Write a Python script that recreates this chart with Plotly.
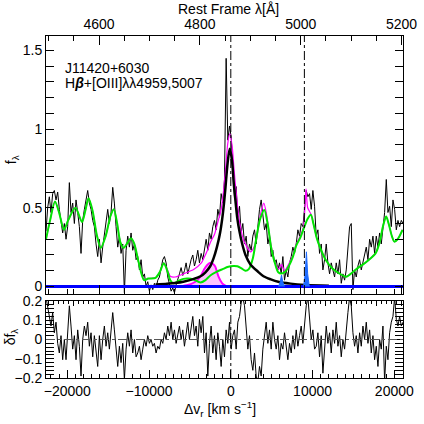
import numpy as np
import plotly.graph_objects as go

C_KMS = 299792.458
LAM0 = 4861.3           # Hbeta rest wavelength
VEL_RANGE = [-22600, 21060]
REF_LINES = [0, 9000]   # Hbeta, [OIII]5007

# observed spectrum, sampled every 204 km/s from -22600
OBS_START, OBS_STEP = -22600, 204
OBS_F = [
    0.35, 0.50, 0.57, 0.47, 0.59, 0.61, 0.55, 0.60, 0.49, 0.42,
    0.34, 0.40, 0.30, 0.38, 0.66, 0.47, 0.53, 0.40, 0.55, 0.47,
    0.38, 0.21, 0.42, 0.49, 0.55, 0.61, 0.53, 0.49, 0.42, 0.38,
    0.27, 0.19, 0.30, 0.15, 0.25, 0.34, 0.44, 0.49, 0.40, 0.47,
    0.63, 0.53, 0.38, 0.25, 0.32, 0.21, 0.27, -0.04, 0.23, 0.32,
    0.25, 0.34, 0.23, 0.27, 0.17,
    0.19, 0.105, 0.17, 0.06, 0.08, 0.0, 0.03, -0.03, 0.01, -0.02,
    0.02, -0.01, 0.04, 0.06, 0.13, 0.17, 0.19, 0.15, 0.06, 0.02,
    -0.03, -0.01, -0.04, 0.01, 0.04, 0.08, 0.12, 0.07, 0.10, 0.15,
    0.08, 0.13, 0.17, 0.20, 0.13, 0.17, 0.23, 0.15, 0.21, 0.17,
    0.25, 0.30, 0.23, 0.34, 0.30, 0.38, 0.42, 0.36, 0.49, 0.44,
    0.59, 0.53, 0.68,
    1.45, 0.93, 1.02, 0.95, 0.74, 0.57, 0.635, 0.44, 0.51, 0.34,
    0.40, 0.27, 0.32, 0.19, 0.27, 0.23, 0.32, 0.36, 0.27, 0.40,
    0.49, 0.55, 0.44, 0.36, 0.40, 0.27, 0.32, 0.19, 0.23, 0.15,
    0.17, 0.105, 0.15, 0.08, 0.19, 0.04, 0.105, 0.06, 0.15, 0.19,
    0.25, 0.21, 0.27, 0.36, 0.32, 0.40, 0.38, 0.49, 0.61, 0.57,
    0.59, 0.49, 0.61, 0.51,
    0.32, 0.36, 0.21, 0.27, 0.105, 0.17, 0.27, 0.15, 0.08, 0.15,
    0.105, 0.06, 0.15, 0.08, 0.17, 0.02, 0.08, 0.04, 0.105, 0.27,
    0.38, 0.40, -0.02, 0.105, 0.06, 0.13, 0.17, 0.105, 0.15, 0.21,
    0.25, 0.17, 0.30, 0.25, 0.32, 0.21, 0.32, 0.25, 0.34, 0.27,
    0.38, 0.47, 0.68, 0.47, 0.51, 0.38, 0.55, 0.49, 0.36, 0.42,
    0.38, 0.42, 0.40,
]
RESID = [
    0.22, 0.175, 0.12, 0.07, 0.14, 0.035, 0.09, -0.02, -0.07, 0.02,
    -0.105, 0.0, -0.105, 0.035, 0.175, 0.07, -0.05, 0.02, -0.105, 0.05,
    -0.035, -0.19, 0.0, 0.07, 0.02, 0.09, -0.035, 0.035, -0.09, 0.02,
    -0.07, -0.14, 0.02, -0.105, 0.0, 0.07, -0.035, 0.035, -0.05, 0.035,
    0.14, 0.05, -0.07, -0.14, -0.035, -0.12, -0.02, -0.21, -0.05, 0.035,
    -0.035, 0.05, -0.07, 0.0, -0.09,
    -0.07, -0.035, -0.105, -0.05, 0.0, -0.035, 0.02, -0.02, 0.0, -0.035,
    -0.02, -0.07, -0.035, -0.05, 0.0, -0.02, 0.035, 0.0, 0.07, 0.02,
    0.09, 0.0, 0.05, -0.02, 0.035, 0.07, 0.0, 0.05, -0.035, 0.035,
    0.09, 0.0, 0.07, 0.12, 0.02, 0.07, -0.035, 0.105, 0.035, 0.12,
    -0.07, 0.035, -0.19, -0.02, 0.07, -0.07, 0.02, -0.105, 0.035, -0.035,
    -0.14, 0.0, -0.09,
    0.05, -0.02, 0.09, -0.05, 0.02, 0.05, -0.05, 0.09, 0.12, 0.19,
    0.22, 0.175, 0.05, -0.05, 0.02, -0.105, -0.16, -0.07, -0.19, -0.22,
    -0.14, -0.19, -0.05, 0.02, 0.09, -0.02, 0.05, -0.05, 0.09, 0.0,
    -0.05, 0.02, -0.105, -0.02, -0.05, 0.035, -0.05, -0.105, -0.02, -0.07,
    0.02, -0.05, 0.05, -0.035, 0.02, 0.07, -0.02, 0.09, 0.175, 0.22,
    0.09, 0.0, 0.05, -0.05,
    -0.035, 0.035, -0.09, 0.02, -0.175, -0.035, 0.07, -0.02, 0.035, -0.07,
    0.05, -0.02, 0.09, -0.035, 0.02, -0.09, 0.0, -0.05, 0.07, 0.14,
    0.22, 0.175, 0.035, -0.035, 0.02, -0.07, 0.035, -0.035, 0.07, 0.0,
    0.09, -0.02, 0.05, -0.07, 0.02, -0.105, -0.035, -0.14, 0.0, -0.05,
    0.07, -0.22, -0.035, -0.105, 0.035, 0.09, 0.12, 0.22, 0.105, 0.07,
    0.12, 0.07, 0.09,
]

# FeII template (green)
GREEN_V = [-22600, -22100, -21500, -21000, -20400, -19900, -19000, -18200, -17800, -17400,
           -16900, -16400, -15900, -15300, -14700, -14300, -13900, -13500, -13100, -12600,
           -12200, -11800, -11300, -10600, -10100, -9200, -8700, -8200, -7700, -7400,
           -7000, -6400, -5800, -5200, -4600, -3700, -3100, -2500, -1700, -1000,
           -300, 300, 800, 1300, 1800, 2200, 2700, 3100, 3600, 4100,
           4500, 5000, 5500, 5800, 6200, 6600, 7100, 7600, 8000, 8500,
           9000, 9400, 9800, 10100, 10500, 10900, 11600, 12400, 13200, 14100,
           14900, 15600, 16100, 16900, 17700, 18200, 18600, 19000, 19300, 19700,
           20000, 20400, 21000]
GREEN_F = [0.30, 0.42, 0.54, 0.47, 0.36, 0.42, 0.50, 0.41, 0.48, 0.56,
           0.48, 0.33, 0.245, 0.32, 0.45, 0.49, 0.40, 0.28, 0.245, 0.28,
           0.306, 0.27, 0.16, 0.04, 0.05, 0.055, 0.09, 0.147, 0.09, 0.04,
           0.02, 0.035, 0.048, 0.05, 0.045, 0.025, 0.04, 0.07, 0.094, 0.11,
           0.125, 0.13, 0.128, 0.115, 0.10, 0.11, 0.18, 0.30, 0.43, 0.486,
           0.40, 0.23, 0.13, 0.09, 0.082, 0.09, 0.13, 0.19, 0.26, 0.31,
           0.38, 0.43, 0.455, 0.40, 0.31, 0.25, 0.17, 0.116, 0.085, 0.062,
           0.09, 0.12, 0.137, 0.17, 0.21, 0.28, 0.38, 0.444, 0.40, 0.32,
           0.285, 0.30, 0.36]

# total model (magenta): same as template away from Hbeta
MAG_MID_V = [-8200, -7700, -7400, -6800, -5800, -4500, -3600, -3300, -2850, -2500,
             -2000, -1630, -1175, -900, -650, -370, -120, 170, 390, 575,
             980, 1590, 2410, 2840, 3230, 3640, 4040, 4370, 4860, 5350,
             5880, 6200, 6570, 7060, 7600, 8000, 8500, 8900, 9200, 9400, 9800]
MAG_MID_F = [0.15, 0.10, 0.065, 0.06, 0.08, 0.11, 0.15, 0.18, 0.23, 0.28,
             0.33, 0.40, 0.49, 0.60, 0.74, 0.91, 0.97, 0.89, 0.75, 0.64,
             0.44, 0.29, 0.22, 0.25, 0.33, 0.46, 0.53, 0.46, 0.28, 0.16,
             0.11, 0.14, 0.10, 0.14, 0.20, 0.27, 0.32, 0.38, 0.62, 0.50, 0.46]
MAG_V = GREEN_V[:27] + MAG_MID_V + GREEN_V[63:]
MAG_F = GREEN_F[:27] + MAG_MID_F + GREEN_F[63:]

# broad Hbeta (black)
BROAD_V = [-9200, -7800, -6800, -5800, -4700, -3700, -3100, -2500, -2100, -1700,
           -1350, -1050, -830, -650, -400, -130, 150, 370, 580, 780,
           1060, 1400, 1800, 2400, 3300, 4000, 4900, 5800, 7300, 9100, 12000]
BROAD_F = [0.012, 0.017, 0.022, 0.03, 0.045, 0.065, 0.09, 0.13, 0.18, 0.25,
           0.33, 0.43, 0.53, 0.63, 0.78, 0.875, 0.80, 0.65, 0.54, 0.44,
           0.35, 0.27, 0.20, 0.14, 0.095, 0.065, 0.045, 0.03, 0.018, 0.01, 0.005]

# blueshifted Gaussian (magenta, filled)
GAUSS_V = [-5800, -4900, -4100, -3700, -3300, -2900, -2500, -2100, -1900, -1500, -1050, -650]
GAUSS_F = [0.005, 0.015, 0.04, 0.065, 0.105, 0.135, 0.15, 0.14, 0.126, 0.063, 0.02, 0.005]

# narrow [OIII] lines (blue)
O4959_V = [5850, 6050, 6200, 6350, 6550]
O4959_F = [0, 0.03, 0.073, 0.03, 0]
O5007_V = [8900, 9100, 9250, 9400, 9600]
O5007_F = [0, 0.08, 0.22, 0.08, 0]

obs_v = OBS_START + OBS_STEP * np.arange(len(OBS_F))
lam_range = [LAM0 * (1 + v / C_KMS) for v in VEL_RANGE]

FONT = "Liberation Sans"
TOP_DOM = [0.2456, 1.0]
BOT_DOM = [0.0, 0.2251]

fig = go.Figure()
fig.add_trace(go.Scatter(x=obs_v, y=OBS_F, mode="lines",
                         line=dict(color="black", width=1), xaxis="x2", yaxis="y2"))
fig.add_trace(go.Scatter(x=MAG_V, y=MAG_F, mode="lines",
                         line=dict(color="#ff00ff", width=1.2, shape="spline", smoothing=0.6),
                         xaxis="x2", yaxis="y2"))
fig.add_trace(go.Scatter(x=GAUSS_V, y=GAUSS_F, mode="lines", fill="tozeroy",
                         fillcolor="rgba(255,120,255,0.45)",
                         line=dict(color="#ff00ff", width=2, shape="spline"),
                         xaxis="x2", yaxis="y2"))
fig.add_trace(go.Scatter(x=GREEN_V, y=GREEN_F, mode="lines",
                         line=dict(color="#00e600", width=2, shape="spline", smoothing=0.8),
                         xaxis="x2", yaxis="y2"))
fig.add_trace(go.Scatter(x=BROAD_V, y=BROAD_F, mode="lines",
                         line=dict(color="black", width=2.5, shape="spline", smoothing=0.8),
                         xaxis="x2", yaxis="y2"))
fig.add_trace(go.Scatter(x=VEL_RANGE, y=[0, 0], mode="lines",
                         line=dict(color="#0000ff", width=3), xaxis="x2", yaxis="y2"))
for xs, ys in [(O4959_V, O4959_F), (O5007_V, O5007_F)]:
    fig.add_trace(go.Scatter(x=xs, y=ys, mode="lines", fill="tozeroy",
                             fillcolor="#1e6bff", line=dict(color="#1e6bff", width=1),
                             xaxis="x2", yaxis="y2"))
fig.add_trace(go.Scatter(x=obs_v, y=RESID, mode="lines",
                         line=dict(color="black", width=1), xaxis="x", yaxis="y"))
# invisible carriers so the wavelength axes get drawn
for xa, ya in [("x3", "y2"), ("x4", "y")]:
    fig.add_trace(go.Scatter(x=lam_range, y=[None, None], mode="lines",
                             xaxis=xa, yaxis=ya, hoverinfo="skip"))

# reference lines
for v in REF_LINES:
    fig.add_shape(type="line", xref="x2", yref="y2 domain", x0=v, x1=v, y0=0, y1=1,
                  line=dict(color="black", width=1, dash="dashdot"))
fig.add_shape(type="line", xref="x", yref="y domain", x0=0, x1=0, y0=0, y1=1,
              line=dict(color="black", width=1, dash="dashdot"))
fig.add_shape(type="line", xref="x domain", yref="y", x0=0, x1=1, y0=0, y1=0,
              line=dict(color="#555", width=1, dash="dashdot"))

ax = dict(showline=True, linecolor="black", linewidth=1, ticks="inside",
          tickcolor="black", showgrid=False, zeroline=False, automargin=False,
          tickfont=dict(family=FONT, size=14, color="black"))

fig.update_layout(
    width=424, height=424,
    margin=dict(l=46, r=21, t=36, b=46),
    paper_bgcolor="white", plot_bgcolor="white",
    showlegend=False,
    font=dict(family=FONT, size=14, color="black"),
    xaxis=dict(**ax, anchor="y", range=VEL_RANGE, dtick=10000, ticklen=8,
               tickformat="d", mirror=True,
               minor=dict(dtick=1000, ticklen=4, ticks="inside", tickcolor="black")),
    xaxis2=dict(**ax, anchor="y2", range=VEL_RANGE, matches="x", showticklabels=False,
                mirror=True),
    xaxis3=dict(**ax, anchor="y2", overlaying="x2", side="top", range=lam_range,
                tick0=4600, dtick=200, ticklen=9, mirror="allticks", tickformat="d",
                minor=dict(dtick=50, ticklen=5, ticks="inside", tickcolor="black")),
    xaxis4=dict(**ax, anchor="y", overlaying="x", side="top", range=lam_range,
                tick0=4600, dtick=50, ticklen=5, showticklabels=False,
                minor=dict(dtick=10, ticklen=3, ticks="inside", tickcolor="black")),
    yaxis=dict(**ax, domain=BOT_DOM, range=[-0.2, 0.2], dtick=0.1, ticklen=8,
               mirror="allticks",
               minor=dict(dtick=0.02, ticklen=4, ticks="inside", tickcolor="black")),
    yaxis2=dict(**ax, domain=TOP_DOM, range=[-0.048, 1.592], tick0=0, dtick=0.5, ticklen=8,
                mirror="allticks",
                minor=dict(dtick=0.1, ticklen=4, ticks="inside", tickcolor="black")),
)

ann = dict(xref="paper", yref="paper", showarrow=False,
           font=dict(family=FONT, size=14, color="black"))
fig.add_annotation(**ann, text="Rest Frame λ[Å]", x=0.51, y=1.078, xanchor="center", yanchor="middle")
fig.add_annotation(**ann, text="J11420+6030", x=0.047, y=0.905, xanchor="left", yanchor="middle")
fig.add_annotation(**ann, text="H<b><i>β</i></b>+[OIII]λλ4959,5007", x=0.047, y=0.862,
                   xanchor="left", yanchor="middle")
fig.add_annotation(**ann, text="f<sub>λ</sub>", x=-0.095, y=0.637, textangle=-90,
                   xanchor="center", yanchor="middle")
fig.add_annotation(**ann, text="δf<sub>λ</sub>", x=-0.097, y=0.12, textangle=-90,
                   xanchor="center", yanchor="middle")
fig.add_annotation(**ann, text="Δv<sub>r</sub> [km s<sup>−1</sup>]", x=0.487, y=-0.09,
                   xanchor="center", yanchor="middle")

# drop the browser's default body margin so the figure sits at the page corner
fig.write_html("out.html", config={"displayModeBar": False},
               post_script="document.body.style.margin='0';")
